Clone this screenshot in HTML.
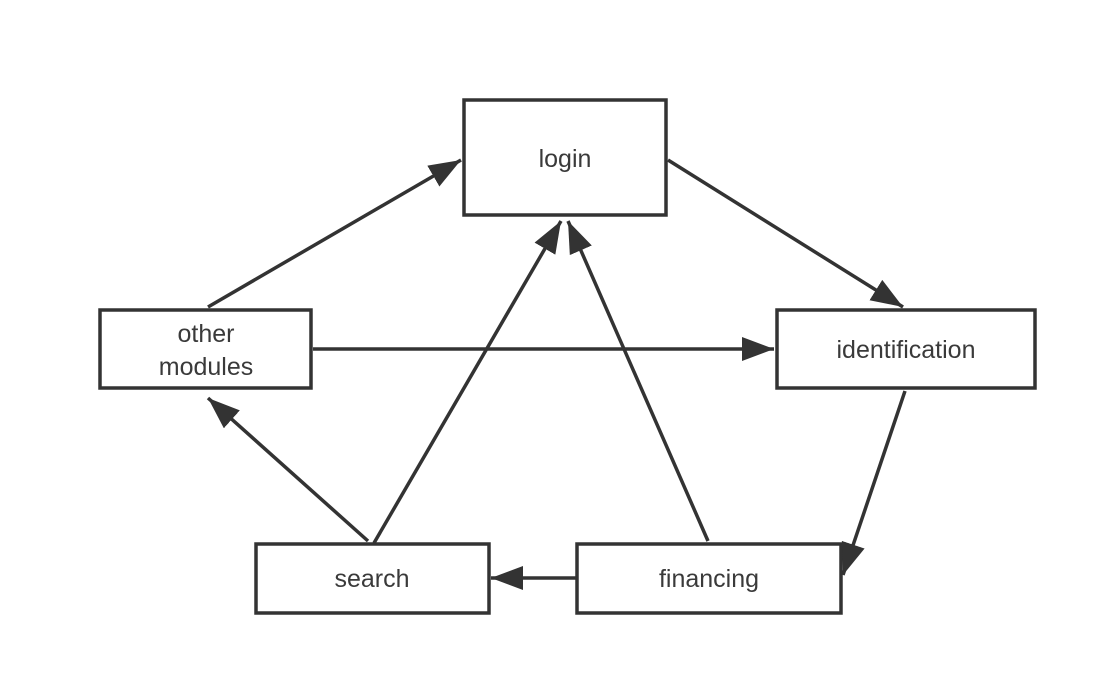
<!DOCTYPE html>
<html><head><style>
html,body{margin:0;padding:0;background:#fff;}
svg{display:block;}
text{font-family:"Liberation Sans","DejaVu Sans",sans-serif;font-size:25px;fill:#3a3a3a;}
</style></head><body>
<svg width="1102" height="681" viewBox="0 0 1102 681" xmlns="http://www.w3.org/2000/svg">
<defs>
<marker id="a" markerUnits="userSpaceOnUse" markerWidth="34" markerHeight="26" refX="32" refY="12" orient="auto">
<path d="M0,0 L32,12 L0,24 Z" fill="#333"/>
</marker>
</defs>
<g fill="#fff" stroke="#333" stroke-width="3.5">
<rect x="464" y="100" width="202" height="115"/>
<rect x="100" y="310" width="211" height="78"/>
<rect x="777" y="310" width="258" height="78"/>
<rect x="256" y="544" width="233" height="69"/>
<rect x="577" y="544" width="264" height="69"/>
</g>
<g stroke="#333" stroke-width="3.5" fill="none" marker-end="url(#a)">
<line x1="208" y1="307" x2="461" y2="160"/>
<line x1="668" y1="160" x2="903" y2="307"/>
<line x1="313" y1="349" x2="774" y2="349"/>
<line x1="905" y1="391" x2="843" y2="575"/>
<line x1="374" y1="543" x2="561" y2="221"/>
<line x1="708" y1="541" x2="568" y2="221"/>
<line x1="368" y1="541" x2="208" y2="398"/>
<line x1="576" y1="578" x2="491" y2="578"/>
</g>
<text x="565" y="167" text-anchor="middle">login</text>
<text x="206" y="342" text-anchor="middle">other</text>
<text x="206" y="375" text-anchor="middle">modules</text>
<text x="906" y="358" text-anchor="middle">identification</text>
<text x="372" y="587" text-anchor="middle">search</text>
<text x="709" y="587" text-anchor="middle">financing</text>
</svg>
</body></html>
